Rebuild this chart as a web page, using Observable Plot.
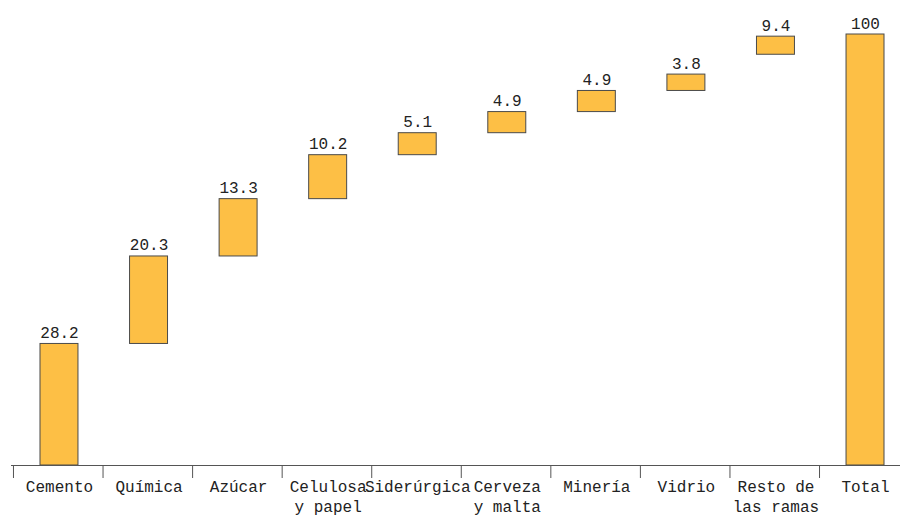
<!DOCTYPE html>
<html><head><meta charset="utf-8">
<script src="https://cdn.jsdelivr.net/npm/d3@7"></script>
<script src="https://cdn.jsdelivr.net/npm/@observablehq/plot@0.6"></script>
<style>body{margin:0;background:#fff}</style>
</head><body><div id="chart"></div>
<script>
const categories = ["Cemento","Química","Azúcar","Celulosa\ny papel","Siderúrgica","Cerveza\ny malta","Minería","Vidrio","Resto de\nlas ramas","Total"];
const labels = ["28.2","20.3","13.3","10.2","5.1","4.9","4.9","3.8","9.4","100"];
// bar extents (share of total, %) as drawn in the reference
const barLow  = [0, 28.2, 48.5, 61.8, 72.0, 77.1, 82.0, 86.9, 95.3, 0];
const barHigh = [28.2, 48.5, 61.8, 72.0, 77.1, 82.0, 86.9, 90.7, 99.5, 100];

const data = categories.map((c, i) => ({cat: c, y1: barLow[i], y2: barHigh[i], label: labels[i]}));

const font = "'Liberation Mono', 'Courier New', monospace";
const chart = Plot.plot({
  width: 900,
  height: 516,
  marginLeft: 11,
  marginRight: 0,
  marginTop: 0,
  marginBottom: 51,
  style: {fontFamily: font, fontSize: "16px", color: "#222", background: "#fff"},
  x: {domain: categories, range: [14.2, 909.8], round: false, paddingInner: 0.576, paddingOuter: 0.288, label: null},
  y: {domain: [0, 100], range: [465, 34], axis: null},
  marks: [
    Plot.barY(data, {x: "cat", y1: "y1", y2: "y2", fill: "#FDBF45", stroke: "#4a4a4a", strokeWidth: 1}),
    Plot.text(data, {x: "cat", y: "y2", text: "label", dy: -6, lineAnchor: "bottom", fontSize: 16, fill: "#222"}),
    Plot.ruleY([0], {stroke: "#555"}),
    Plot.axisX({text: null, tickSize: 13, dx: -46, stroke: "#555"}),
    Plot.axisX({tickSize: 0, tickPadding: 12, fontSize: 16, lineHeight: 1.25, fill: "#222"})
  ]
});
document.getElementById("chart").append(chart);
</script></body></html>
